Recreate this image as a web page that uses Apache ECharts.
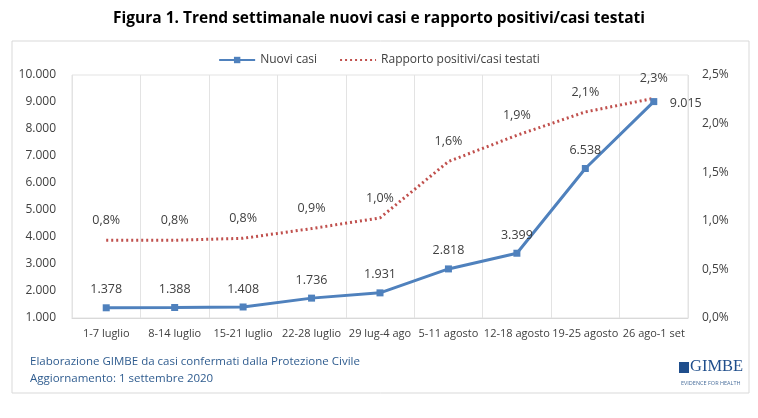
<!DOCTYPE html>
<html><head><meta charset="utf-8">
<script src="https://cdn.jsdelivr.net/npm/echarts@6/dist/echarts.min.js"></script>
<style>html,body{margin:0;padding:0;background:#fff}#c{width:758px;height:418px}</style>
</head><body><div id="c"></div>
<script>
const categories = ['1-7 luglio','8-14 luglio','15-21 luglio','22-28 luglio','29 lug-4 ago','5-11 agosto','12-18 agosto','19-25 agosto','26 ago-1 set'];
const nuoviCasi = [1378, 1388, 1408, 1736, 1931, 2818, 3399, 6538, 9015];
const rapporto = [0.80, 0.80, 0.82, 0.92, 1.03, 1.61, 1.88, 2.12, 2.26];
const rapportoLabels = ['0,8%','0,8%','0,8%','0,9%','1,0%','1,6%','1,9%','2,1%','2,3%'];
const leftTicks = {min: 1000, max: 10000, interval: 1000};
const rightTicks = {min: 0, max: 2.5, interval: 0.5};

const F = '"Open Sans", "Noto Sans", sans-serif';
const fmtInt = v => String(v).replace(/\B(?=(\d{3})+(?!\d))/g, '.');
const chart = echarts.init(document.getElementById('c'));
chart.setOption({
  animation: false,
  title: {text: 'Figura 1. Trend settimanale nuovi casi e rapporto positivi/casi testati', left: 'center', top: 6,
    textStyle: {fontFamily: F, fontSize: 15.5, fontWeight: 'bold', color: '#000'}},
  legend: {top: 49, left: 'center', itemWidth: 36, itemHeight: 8, itemGap: 22,
    textStyle: {fontFamily: F, fontSize: 12, color: '#404040'},
    data: [{name: 'Nuovi casi'}, {name: 'Rapporto positivi/casi testati', itemStyle: {opacity: 0}}]},
  grid: {left: 72, right: 70, top: 75, bottom: 100, show: true, borderColor: '#e3e3e3', borderWidth: 1},
  xAxis: {type: 'category', data: categories, boundaryGap: true,
    axisLine: {lineStyle: {color: '#d9d9d9'}}, axisTick: {show: false},
    axisLabel: {interval: 0, fontFamily: F, fontSize: 11, color: '#404040', margin: 10},
    splitLine: {show: true, interval: 0, lineStyle: {color: '#e3e3e3'}}},
  yAxis: [
    {type: 'value', min: leftTicks.min, max: leftTicks.max, interval: leftTicks.interval,
      axisLine: {show: false}, axisTick: {show: false}, splitLine: {show: false},
      axisLabel: {fontFamily: F, fontSize: 12, color: '#404040', margin: 16, formatter: fmtInt}},
    {type: 'value', min: rightTicks.min, max: rightTicks.max, interval: rightTicks.interval, position: 'right',
      axisLine: {show: false}, axisTick: {show: false}, splitLine: {show: false},
      axisLabel: {fontFamily: F, fontSize: 12, color: '#404040', margin: 14,
        formatter: v => v.toFixed(1).replace('.', ',') + '%'}}
  ],
  series: [
    {name: 'Nuovi casi', type: 'line', yAxisIndex: 0, data: nuoviCasi, z: 3,
      symbol: 'rect', symbolSize: 7, itemStyle: {color: '#4F81BD'},
      lineStyle: {color: '#4F81BD', width: 3},
      label: {show: true, position: 'top', distance: 8, fontFamily: F, fontSize: 12.5, color: '#404040', formatter: p => fmtInt(p.value)},
      labelLayout: p => p.dataIndex === 8 ? {dx: 32, dy: 20} : {}},
    {name: 'Rapporto positivi/casi testati', type: 'line', yAxisIndex: 1, data: rapporto, z: 2,
      symbol: 'circle', symbolSize: 0.5, itemStyle: {color: '#C0504D'},
      lineStyle: {color: '#C0504D', width: 3, type: [2, 3]},
      label: {show: true, position: 'top', distance: 13, fontFamily: F, fontSize: 12.5, color: '#404040',
        formatter: p => rapportoLabels[p.dataIndex]}}
  ],
  graphic: [
    {type: 'rect', shape: {x: 12, y: 41, width: 737, height: 352}, style: {fill: 'none', stroke: '#d9d9d9', lineWidth: 1}, silent: true},
    {type: 'text', left: 30, top: 356, style: {text: 'Elaborazione GIMBE da casi confermati dalla Protezione Civile', fontFamily: F, fontSize: 11.5, fill: '#2F5C8F'}},
    {type: 'text', left: 30, top: 373, style: {text: 'Aggiornamento: 1 settembre 2020', fontFamily: F, fontSize: 11.5, fill: '#2F5C8F'}},
    {type: 'rect', shape: {x: 679, y: 362, width: 10, height: 11}, style: {fill: '#1F4E8C'}},
    {type: 'text', left: 690, top: 358, style: {text: 'GIMBE', fontFamily: '"Liberation Serif", serif', fontSize: 16.5, fill: '#1F4E8C'}},
    {type: 'text', left: 681, top: 380, style: {text: 'EVIDENCE FOR HEALTH', fontFamily: F, fontSize: 5.5, fill: '#4a6f9c'}}
  ]
});
</script></body></html>
